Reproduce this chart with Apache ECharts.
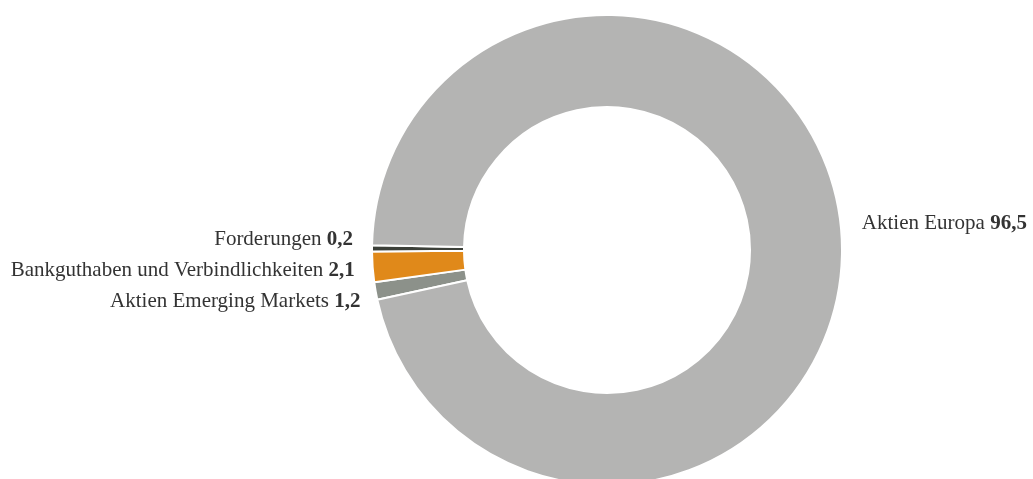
<!DOCTYPE html>
<html>
<head>
<meta charset="utf-8">
<script src="https://cdn.jsdelivr.net/npm/echarts@6/dist/echarts.min.js"></script>
<style>
html,body{margin:0;padding:0;background:#fff;}
#chart{width:1033px;height:479px;}
</style>
</head>
<body>
<div id="chart"></div>
<script>
const categories = ['Aktien Emerging Markets', 'Bankguthaben und Verbindlichkeiten', 'Forderungen', 'Aktien Europa'];
const values = [1.2, 2.1, 0.2, 96.5];
const colors = ['#8c918a', '#e0891a', '#3c4039', '#b4b4b3'];

const chart = echarts.init(document.getElementById('chart'));
const data = categories.map((c, i) => ({ name: c, value: values[i], itemStyle: { color: colors[i] } }));
chart.setOption({
  animation: false,
  series: [{
    type: 'pie',
    center: [607, 250],
    radius: [143, 235],
    startAngle: 192.2,
    minAngle: 1.5,
    clockwise: true,
    avoidLabelOverlap: true,
    data: data,
    itemStyle: { borderColor: '#ffffff', borderWidth: 2 },
    label: {
      show: true,
      position: 'outside',
      overflow: 'none',
      fontFamily: 'Liberation Serif',
      fontSize: 21,
      lineHeight: 29,
      color: '#333333',
      formatter: p => '{n|' + p.name + '} {v|' + String(p.value).replace('.', ',') + '}',
      rich: {
        n: { fontFamily: 'Liberation Serif', fontSize: 21, lineHeight: 29, color: '#333333' },
        v: { fontFamily: 'Liberation Serif', fontSize: 21, lineHeight: 29, fontWeight: 'bold', color: '#333333' }
      }
    },
    labelLine: { show: false, length: 12, length2: 4 },
    labelLayout: p => (p.align === 'right' ? { dx: -3, dy: -9 } : { dy: -3 }),
    emphasis: { disabled: true }
  }]
});
</script>
</body>
</html>
